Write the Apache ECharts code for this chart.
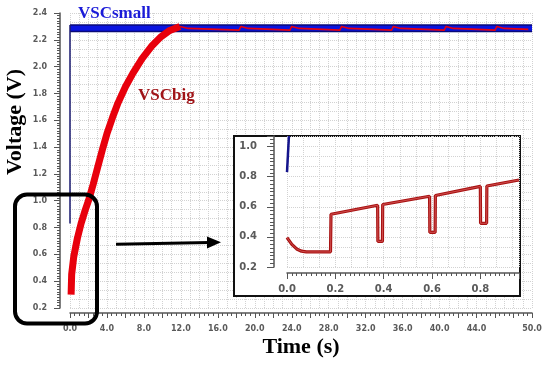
<!DOCTYPE html>
<html>
<head>
<meta charset="utf-8">
<script src="https://cdn.jsdelivr.net/npm/echarts@6/dist/echarts.min.js"></script>
<style>
html,body{margin:0;padding:0;background:#fff;}
#wrap{position:relative;width:550px;height:366px;}
.layer{position:absolute;left:0;top:0;width:550px;height:366px;}
</style>
</head>
<body>
<div id="wrap">
  <div id="bgMain" class="layer"></div>
  <div id="bgInset" class="layer"></div>
  <div id="chart" class="layer"></div>
  <div id="notes" class="layer"></div>
</div>
<script>
// ---- data ----
const xTickLabels = ['0.0','4.0','8.0','12.0','16.0','20.0','24.0','28.0','32.0','36.0','40.0','44.0','50.0'];
const yTickLabels = ['0.2','0.4','0.6','0.8','1.0','1.2','1.4','1.6','1.8','2.0','2.2','2.4'];
const insetXTickLabels = ['0.0','0.2','0.4','0.6','0.8'];
const insetYTickLabels = ['0.2','0.4','0.6','0.8','1.0'];

// VSCsmall (main view)
const smallRise = [[0,0.83],[0,2.31]];
const smallBand = [[0,2.286],[50,2.286]];
// VSCbig (main view)
const bigCharge = [[0.12,0.30],[0.18,0.45],[0.4,0.58],[0.8,0.72],[1.2,0.83],[1.6,0.92],[2.0,1.0],[2.5,1.12],[3.0,1.25],[3.5,1.38],[4.0,1.50],[4.6,1.62],[5.2,1.73],[6.0,1.85],[6.8,1.95],[7.8,2.06],[8.8,2.15],[9.8,2.22],[10.8,2.27],[11.9,2.30]];
const bigHold = [[11.9,2.30],[12.8,2.285],[18.3,2.272],[18.5,2.30],[19.3,2.285],[23.8,2.272],[24.0,2.30],[24.8,2.285],[29.2,2.272],[29.4,2.30],[30.2,2.285],[34.8,2.272],[35.0,2.30],[35.8,2.285],[40.5,2.272],[40.7,2.30],[41.5,2.285],[46.0,2.272],[46.2,2.30],[47.0,2.285],[49.6,2.278]];
// Inset (first second)
const insetSmall = [[0,0.83],[0.008,1.07]];
const insetBig = [[0,0.395],[0.02,0.35],[0.04,0.32],[0.06,0.305],[0.08,0.30],[0.18,0.30],[0.182,0.55],[0.375,0.61],[0.376,0.37],[0.395,0.37],[0.396,0.615],[0.59,0.67],[0.591,0.43],[0.613,0.43],[0.614,0.675],[0.80,0.735],[0.801,0.49],[0.826,0.49],[0.827,0.738],[0.96,0.778]];

// ---- layout ----
const mainRect = {left:70, top:13, width:462, height:295};
const insetRect = {left:287, top:136, width:232, height:131};
const boxRect = {left:234, top:136, width:286, height:160};
const labelGrey = '#5a5a5a';
const axisGrey = '#555';

function dotted(){ return {show:true, lineStyle:{color:'#d2d2d2', type:'dotted', width:1}}; }
function gridAxis(min, max, interval, minorSplit){
  return {type:'value', min, max, interval, axisLine:{show:false}, axisTick:{show:false}, axisLabel:{show:false},
    splitLine:dotted(), minorTick:{show:false, splitNumber:minorSplit}, minorSplitLine:dotted()};
}
function labeledAxis(min, max, interval, offset, tickLen, minorSplit, fontSize, margin, labels){
  return {type:'value', min, max, interval, offset,
    axisLine:{show:true, onZero:false, lineStyle:{color:axisGrey, width:1.5}},
    axisTick:{show:true, length:tickLen, lineStyle:{color:axisGrey, width:1}},
    minorTick:{show:true, splitNumber:minorSplit, length:Math.round(tickLen*0.55)},
    splitLine:{show:false},
    axisLabel:{margin, color:labelGrey, fontFamily:'DejaVu Sans', fontWeight:'bold', fontSize,
      formatter:v=>{const s=v.toFixed(1); return labels.includes(s)?s:'';}}};
}
function line(name, idx, data, color, width, z){
  return {name, type:'line', xAxisIndex:idx, yAxisIndex:idx, data, showSymbol:false, symbol:'none', z,
    lineStyle:{color, width}};
}

// Layer 1: dotted grid of the main plot
echarts.init(document.getElementById('bgMain')).setOption({
  animation:false, backgroundColor:'transparent',
  grid:[Object.assign({}, mainRect)],
  xAxis:[gridAxis(0,50,2,2)],
  yAxis:[gridAxis(0.2,2.4,0.2,3)]
});

// Layer 2: white inset panel with its own dotted grid
echarts.init(document.getElementById('bgInset')).setOption({
  animation:false, backgroundColor:'transparent',
  grid:[Object.assign({show:true, backgroundColor:'#fff', borderColor:'#111', borderWidth:2}, boxRect),
        Object.assign({}, insetRect)],
  xAxis:[{type:'value', gridIndex:0, show:false, min:0, max:1}, Object.assign({gridIndex:1, z:2}, gridAxis(0,0.96,0.2,3))],
  yAxis:[{type:'value', gridIndex:0, show:false, min:0, max:1}, Object.assign({gridIndex:1, z:2}, gridAxis(0.2,1.07,0.2,3))]
});

// Layer 3: axes and curves
echarts.init(document.getElementById('chart')).setOption({
  animation:false, backgroundColor:'transparent',
  grid:[Object.assign({}, mainRect), Object.assign({}, insetRect)],
  xAxis:[
    Object.assign({gridIndex:0}, labeledAxis(0,50,2,5,5,4,8,12,xTickLabels)),
    Object.assign({gridIndex:1}, labeledAxis(0,0.96,0.2,6,6,10,10,11,insetXTickLabels))
  ],
  yAxis:[
    Object.assign({gridIndex:0}, labeledAxis(0.2,2.4,0.2,10,6,10,8,13,yTickLabels)),
    Object.assign({gridIndex:1}, labeledAxis(0.2,1.07,0.2,13,7,8,10,17,insetYTickLabels))
  ],
  series:[
    line('VSCsmall band outline', 0, smallBand, '#0a0a78', 8, 3),
    line('VSCsmall band', 0, smallBand, '#0a14e0', 5, 4),
    line('VSCsmall rise', 0, smallRise, '#1a1a70', 1.5, 4),
    line('VSCbig charge', 0, bigCharge, '#e8000c', 7, 6),
    line('VSCbig hold', 0, bigHold, '#e8000c', 1.6, 6),
    line('inset small', 1, insetSmall, '#14148c', 2.5, 6),
    line('inset big outline', 1, insetBig, '#a81212', 3.2, 6),
    line('inset big core', 1, insetBig, '#d85a5a', 0.8, 7)
  ]
});

// Layer 4: annotations and titles
echarts.init(document.getElementById('notes')).setOption({
  animation:false, backgroundColor:'transparent',
  graphic:{elements:[
    {type:'rect', z:50, shape:{x:15, y:194.5, width:82, height:129, r:12},
     style:{fill:'none', stroke:'#000', lineWidth:4}},
    {type:'line', z:50, shape:{x1:116, y1:244.3, x2:210, y2:242.5},
     style:{stroke:'#000', lineWidth:3}},
    {type:'polygon', z:50, shape:{points:[[221,242.3],[207,236.5],[207,248.5]]},
     style:{fill:'#000'}},
    {type:'text', z:50, x:78, y:14,
     style:{text:'VSCsmall', font:'bold 17px "Liberation Serif"', fill:'#1a1ad8', align:'left', verticalAlign:'middle'}},
    {type:'text', z:50, x:138, y:96,
     style:{text:'VSCbig', font:'bold 17px "Liberation Serif"', fill:'#a01418', align:'left', verticalAlign:'middle'}},
    {type:'text', z:50, x:301, y:347,
     style:{text:'Time (s)', font:'bold 22px "Liberation Serif"', fill:'#000', align:'center', verticalAlign:'middle'}},
    {type:'text', z:50, x:15, y:122, rotation:Math.PI/2,
     style:{text:'Voltage (V)', font:'bold 22px "Liberation Serif"', fill:'#000', align:'center', verticalAlign:'middle'}}
  ]}
});
</script>
</body>
</html>
